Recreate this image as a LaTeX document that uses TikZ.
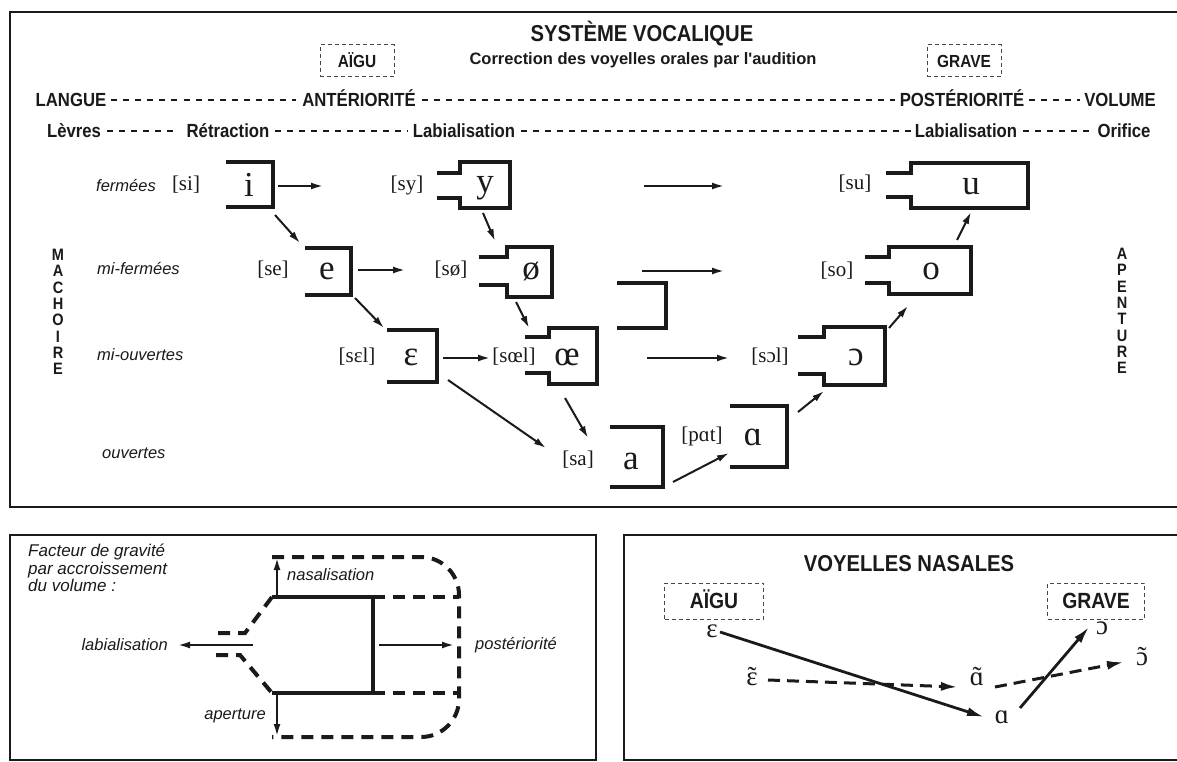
\documentclass[tikz,border=0pt]{standalone}
\usepackage{fontspec}
\setmainfont{Liberation Serif}
\newfontfamily\condf[FakeStretch=0.88]{Liberation Sans}
\newfontfamily\sansf{Liberation Sans}
\newfontfamily\ipaf{Liberation Serif}
\usetikzlibrary{arrows.meta}
\newcommand\setfs[1]{\fontsize{#1}{#1}\selectfont}
\newcommand\withtilde[1]{\ooalign{\hfil#1\hfil\cr\hfil˜\hfil\cr}}
\definecolor{ink}{HTML}{1A1A1A}
\newcommand\unrshape[4]{\draw[mouth] (#1,#3) -- (#2,#3) -- (#2,#4) -- (#1,#4);}
\newcommand\rndshape[7]{\draw[mouth] (#1,#5) -- (#2,#5) -- (#2,#4) -- (#3,#4) -- (#3,#7) -- (#2,#7) -- (#2,#6) -- (#1,#6);}
\tikzset{
  frame/.style={draw=ink, line width=2.5pt},
  mouth/.style={draw=ink, line width=4.2pt, line join=miter},
  arr/.style={draw=ink, line width=2pt, -{Latex[length=12pt,width=7pt]}},
  bigarr/.style={draw=ink, line width=2.8pt, -{Latex[length=17pt,width=9pt]}},
  dasharr/.style={draw=ink, line width=3pt, dash pattern=on 12pt off 7pt, -{Latex[length=17pt,width=9pt]}},
  hdash/.style={draw=ink, line width=2pt, dash pattern=on 6pt off 6pt},
  thickdash/.style={draw=ink, line width=4pt, dash pattern=on 12pt off 8pt},
  dbox/.style={draw=ink!80, line width=1pt, dash pattern=on 4pt off 3pt},
  hdr/.style={font=\condf\bfseries\setfs{19}, text=ink, inner sep=0pt, text height=13.6pt, text depth=0pt},
  lab/.style={font=\sansf\itshape\setfs{16.5}, text=ink, inner sep=0pt},
  ipal/.style={font=\ipaf\setfs{21}, text=ink, inner sep=0pt},
  vow/.style={font=\ipaf\setfs{35}, text=ink, inner sep=0pt},
  nas/.style={font=\ipaf\setfs{27}, text=ink, inner sep=0pt},
  vert/.style={font=\condf\bfseries\fontsize{16.5}{16.3}\selectfont, text=ink, align=center, inner sep=0pt}
}
\begin{document}
\begin{tikzpicture}[x=1pt,y=-1pt]
\useasboundingbox (0,0) rectangle (1177,762);
\fill[white] (0,0) rectangle (1177,762);

% ---------- main frame ----------
\draw[frame] (10,12) rectangle (1185,507);

\node[font=\condf\bfseries\setfs{23}, text=ink, inner sep=0pt] (title) at (642,34) {SYSTÈME VOCALIQUE};
\node[font=\sansf\bfseries\setfs{16.5}, text=ink, inner sep=0pt] (subtitle) at (643,60) {Correction des voyelles orales par l'audition};
\node[hdr, dbox, font=\condf\bfseries\setfs{17.5}, text height=12.5pt, minimum width=74pt, minimum height=32pt] (aigu) at (357,61) {AÏGU};
\node[hdr, dbox, font=\condf\bfseries\setfs{17.5}, text height=12.5pt, minimum width=74pt, minimum height=32pt] (grave) at (964,61) {GRAVE};

% header rows
\node[hdr] (langue) at (71,100) {LANGUE};
\node[hdr] (ante) at (359,100) {ANTÉRIORITÉ};
\node[hdr] (post) at (962,100) {POSTÉRIORITÉ};
\node[hdr] (volume) at (1120,100) {VOLUME};
\draw[hdash] ([xshift=5pt]langue.east) -- ([xshift=-6pt]ante.west);
\draw[hdash] ([xshift=6pt]ante.east) -- ([xshift=-5pt]post.west);
\draw[hdash] ([xshift=5pt]post.east) -- ([xshift=-4pt]volume.west);

\node[hdr] (levres) at (74,131) {Lèvres};
\node[hdr] (retr) at (228,131) {Rétraction};
\node[hdr] (labA) at (464,131) {Labialisation};
\node[hdr] (labB) at (966,131) {Labialisation};
\node[hdr] (orif) at (1124,131) {Orifice};
\draw[hdash] ([xshift=6pt]levres.east) -- ([xshift=-8pt]retr.west);
\draw[hdash] ([xshift=5pt]retr.east) -- ([xshift=-5pt]labA.west);
\draw[hdash] ([xshift=6pt]labA.east) -- ([xshift=-4pt]labB.west);
\draw[hdash] ([xshift=6pt]labB.east) -- ([xshift=-6pt]orif.west);

% side labels
\node[vert] (machoire) at (58,312) {M\\A\\C\\H\\O\\I\\R\\E};
\node[vert] (apenture) at (1122,311) {A\\P\\E\\N\\T\\U\\R\\E};
\node[lab, anchor=west] (ferm) at (96,186) {fermées};
\node[lab, anchor=west] (mferm) at (97,269) {mi-fermées};
\node[lab, anchor=west] (mouv) at (97,355) {mi-ouvertes};
\node[lab, anchor=west] (ouv) at (102,453) {ouvertes};

% ---------- mouth shapes ----------
\unrshape{226}{273}{162}{207}   % i
\unrshape{305}{351}{248}{295}   % e
\unrshape{387}{437}{330}{382}   % epsilon
\unrshape{610}{663}{427}{487}   % a
\unrshape{730}{787}{406}{467}   % alpha
\unrshape{617}{666}{283}{328}   % empty
\rndshape{437}{460}{510}{162}{173}{198}{208}  % y
\rndshape{479}{507}{552}{247}{257}{285}{297}  % oe-slash
\rndshape{525}{549}{597}{328}{337}{373}{384}  % oe
\rndshape{886}{911}{1028}{163}{173}{197}{208} % u
\rndshape{865}{889}{971}{247}{257}{283}{294}  % o
\rndshape{798}{824}{885}{327}{337}{374}{385}  % open o

% vowels
\node[vow] (vi) at (249,185) {i};
\node[vow] (ve) at (327,271) {e};
\node[vow] (veps) at (411,357) {ɛ};
\node[vow] (va) at (631,461) {a};
\node[vow] (valpha) at (753,437) {ɑ};
\node[vow] (vy) at (485,188) {y};
\node[vow] (voslash) at (531,271) {ø};
\node[vow] (voe) at (567,357) {œ};
\node[vow] (vu) at (971,187) {u};
\node[vow] (vo) at (931,271) {o};
\node[vow] (vopen) at (856,357) {ɔ};

% bracket labels
\node[ipal] (lsi) at (186,185) {[si]};
\node[ipal] (lse) at (273,270) {[se]};
\node[ipal] (lseps) at (357,357) {[sɛl]};
\node[ipal] (lsa) at (578,460) {[sa]};
\node[ipal] (lpat) at (702,436) {[pɑt]};
\node[ipal] (lsy) at (407,185) {[sy]};
\node[ipal] (lsoslash) at (451,270) {[sø]};
\node[ipal] (lsoe) at (514,357) {[sœl]};
\node[ipal] (lsu) at (855,184) {[su]};
\node[ipal] (lso) at (837,271) {[so]};
\node[ipal] (lsopen) at (770,357) {[sɔl]};

% arrows (main)
\coordinate (a1s) at (278,186);  \coordinate (a1e) at (323,186);
\coordinate (a2s) at (275,215);  \coordinate (a2e) at (300,243);
\coordinate (a3s) at (483,213);  \coordinate (a3e) at (495,241);
\coordinate (a4s) at (644,186);  \coordinate (a4e) at (724,186);
\coordinate (a5s) at (358,270);  \coordinate (a5e) at (405,270);
\coordinate (a6s) at (642,271);  \coordinate (a6e) at (724,271);
\coordinate (a7s) at (355,298);  \coordinate (a7e) at (384,328);
\coordinate (a8s) at (516,302);  \coordinate (a8e) at (529,328);
\coordinate (a9s) at (443,358);  \coordinate (a9e) at (490,358);
\coordinate (a10s) at (647,358); \coordinate (a10e) at (729,358);
\coordinate (a11s) at (448,380); \coordinate (a11e) at (546,448);
\coordinate (a12s) at (565,398); \coordinate (a12e) at (588,438);
\coordinate (a13s) at (673,482); \coordinate (a13e) at (729,453);
\coordinate (a14s) at (798,412); \coordinate (a14e) at (824,391);
\coordinate (a15s) at (889,328); \coordinate (a15e) at (908,306);
\coordinate (a16s) at (957,240); \coordinate (a16e) at (971,212);
\foreach \k in {1,...,16} {\draw[arr] (a\k s) -- (a\k e);}

% ---------- bottom-left box ----------
\draw[frame] (10,535) rectangle (596,760);
\node[lab, font=\sansf\itshape\fontsize{17}{17.5}\selectfont, align=left, anchor=north west] (facteur) at (28,544) {Facteur de gravité\\par accroissement\\du volume :};

\draw[mouth] (272,597) -- (373,597) -- (373,693) -- (272,693);
\draw[thickdash] (272,597) -- (245,633) -- (212,633);
\draw[thickdash] (216,655) -- (240,655) -- (272,693);
\draw[thickdash] (373,597) -- (459,597);
\draw[thickdash] (373,693) -- (459,693);
\draw[thickdash, rounded corners=38pt] (272,557) -- (459,557) -- (459,737) -- (272,737);

\coordinate (nasS) at (277,596); \coordinate (nasE) at (277,558);
\coordinate (apeS) at (277,694); \coordinate (apeE) at (277,736);
\coordinate (labS) at (253,645); \coordinate (labE) at (178,645);
\coordinate (posS) at (379,645); \coordinate (posE) at (454,645);
\draw[arr] (nasS) -- (nasE);
\draw[arr] (apeS) -- (apeE);
\draw[arr] (labS) -- (labE);
\draw[arr] (posS) -- (posE);
\node[lab, anchor=west] (tnas) at (287,575) {nasalisation};
\node[lab, anchor=east] (tape) at (266,716) {aperture};
\node[lab, anchor=east] (tlab) at (168,645) {labialisation};
\node[lab, anchor=west] (tpos) at (475,645) {postériorité};

% ---------- bottom-right box ----------
\draw[frame] (624,535) rectangle (1185,760);
\node[font=\condf\bfseries\setfs{23}, text=ink, inner sep=0pt] (nasales) at (909,564) {VOYELLES NASALES};
\node[hdr, dbox, font=\condf\bfseries\setfs{22}, text height=15.8pt, minimum width=99pt, minimum height=36pt] (aigu2) at (714,601) {AÏGU};
\node[hdr, dbox, font=\condf\bfseries\setfs{22}, text height=15.8pt, minimum width=97pt, minimum height=36pt] (grave2) at (1096,601) {GRAVE};

\node[nas] (neps) at (712,631) {ɛ};
\node[nas] (nalpha) at (1002,717) {ɑ};
\node[nas] (nopen) at (1102,628) {ɔ};
\node[nas] (nepsn) at (752,679) {\withtilde{ɛ}};
\node[nas] (nalphan) at (977,679) {\withtilde{ɑ}};
\node[nas] (nopenn) at (1142,659) {\withtilde{ɔ}};

\coordinate (b1s) at (720,632);  \coordinate (b1e) at (984,717);
\coordinate (b2s) at (1020,708); \coordinate (b2e) at (1089,627);
\coordinate (b3s) at (768,680);  \coordinate (b3e) at (958,687);
\coordinate (b4s) at (995,687);  \coordinate (b4e) at (1124,662);
\draw[bigarr] (b1s) -- (b1e);
\draw[bigarr] (b2s) -- (b2e);
\draw[dasharr] (b3s) -- (b3e);
\draw[dasharr] (b4s) -- (b4e);
\end{tikzpicture}
\end{document}
